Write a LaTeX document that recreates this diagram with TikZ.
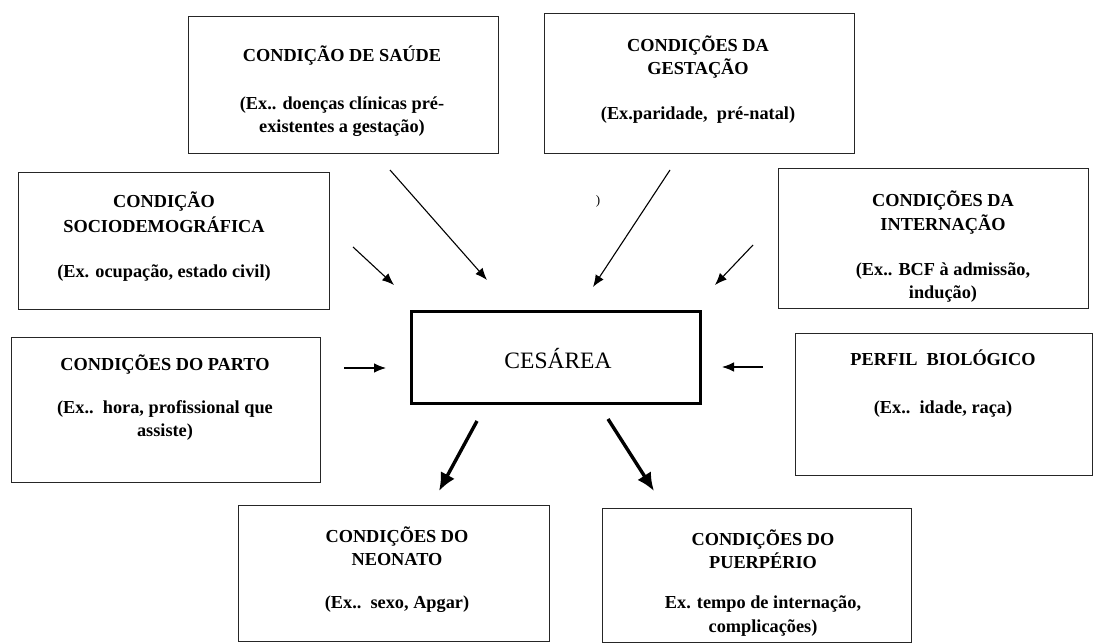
\documentclass[tikz,border=0pt]{standalone}
\usepackage{fontspec}
\setmainfont{Liberation Serif}
\usetikzlibrary{arrows.meta}
\begin{document}
\begin{tikzpicture}[x=1pt,y=-1pt,
  box/.style={draw=black!85, line width=1.2pt, anchor=north west, inner sep=0pt, fill=white},
  mainbox/.style={draw=black, line width=2.6pt, anchor=north west, inner sep=0pt},
  ln/.style={font=\fontsize{18.3}{23}\selectfont\bfseries, anchor=base, inner sep=0pt, text=black},
  thinarrow/.style={line width=1.1pt, -{Latex[length=12pt,width=9.5pt]}},
  thickarrow/.style={line width=3.4pt, -{Latex[length=18pt,width=16pt]}}]
\useasboundingbox (0,0) rectangle (1094,644);

% boxes
\node[box, minimum width=310pt, minimum height=137pt] (saude) at (188,16) {};
\node[box, minimum width=310pt, minimum height=140pt] (gest) at (544,13) {};
\node[box, minimum width=311pt, minimum height=137pt] (socio) at (18,172) {};
\node[box, minimum width=310pt, minimum height=140pt] (intern) at (778,168) {};
\node[box, minimum width=309pt, minimum height=145pt] (parto) at (11,337) {};
\node[box, minimum width=297pt, minimum height=142pt] (perfil) at (795,333) {};
\node[box, minimum width=311pt, minimum height=136pt] (neo) at (238,505) {};
\node[box, minimum width=309pt, minimum height=134pt] (puer) at (602,508) {};
\node[mainbox, minimum width=289pt, minimum height=92pt] (ces) at (410,310) {};
\node[font=\fontsize{23.5}{26}\selectfont, anchor=base, inner sep=0pt] (cestxt) at (558,368) {CESÁREA};

% texts
\node[ln] (saude1) at (342,62) {CONDIÇÃO DE SAÚDE};
\node[ln] (saude2) at (342,110) {(Ex.. doenças clínicas pré-};
\node[ln] (saude3) at (342,133) {existentes a gestação)};

\node[ln] (gest1) at (698,52) {CONDIÇÕES DA};
\node[ln] (gest2) at (698,75) {GESTAÇÃO};
\node[ln] (gest3) at (698,120) {(Ex.paridade,\ \ pré-natal)};

\node[ln] (socio1) at (164,208) {CONDIÇÃO};
\node[ln] (socio2) at (164,233) {SOCIODEMOGRÁFICA};
\node[ln] (socio3) at (164,277) {(Ex. ocupação, estado civil)};

\node[ln] (intern1) at (943,207) {CONDIÇÕES DA};
\node[ln] (intern2) at (943,231) {INTERNAÇÃO};
\node[ln] (intern3) at (943,275) {(Ex.. BCF à admissão,};
\node[ln] (intern4) at (943,298) {indução)};

\node[ln] (parto1) at (165,370) {CONDIÇÕES DO PARTO};
\node[ln] (parto2) at (165,413) {(Ex..\ \ hora, profissional que};
\node[ln] (parto3) at (165,436) {assiste)};

\node[ln] (perfil1) at (943,365) {PERFIL\ \ BIOLÓGICO};
\node[ln] (perfil2) at (943,413) {(Ex..\ \ idade, raça)};

\node[ln] (neo1) at (397,542) {CONDIÇÕES DO};
\node[ln] (neo2) at (397,565) {NEONATO};
\node[ln] (neo3) at (397,608) {(Ex..\ \ sexo, Apgar)};

\node[ln] (puer1) at (763,545) {CONDIÇÕES DO};
\node[ln] (puer2) at (763,568) {PUERPÉRIO};
\node[ln] (puer3) at (763,608) {Ex. tempo de internação,};
\node[ln] (puer4) at (763,632) {complicações)};

\node[font=\fontsize{13}{14}\selectfont, inner sep=0pt] (stray) at (598,201) {)};

% arrow endpoints
\coordinate (a1s) at (390,170); \coordinate (a1e) at (487,280);
\coordinate (a2s) at (670,170); \coordinate (a2e) at (593,287);
\coordinate (a3s) at (353,247); \coordinate (a3e) at (394,285);
\coordinate (a4s) at (753,245); \coordinate (a4e) at (715,285);
\coordinate (a5s) at (344,368); \coordinate (a5e) at (386,368);
\coordinate (a6s) at (763,367); \coordinate (a6e) at (722,367);
\coordinate (a7s) at (477,421); \coordinate (a7e) at (439,491);
\coordinate (a8s) at (608,419); \coordinate (a8e) at (654,491);

\draw[thinarrow] (a1s) -- (a1e);
\draw[thinarrow] (a2s) -- (a2e);
\draw[thinarrow] (a3s) -- (a3e);
\draw[thinarrow] (a4s) -- (a4e);
\draw[thinarrow] (a5s) -- (a5e);
\draw[thinarrow] (a6s) -- (a6e);
\draw[thickarrow] (a7s) -- (a7e);
\draw[thickarrow] (a8s) -- (a8e);
\end{tikzpicture}
\end{document}
